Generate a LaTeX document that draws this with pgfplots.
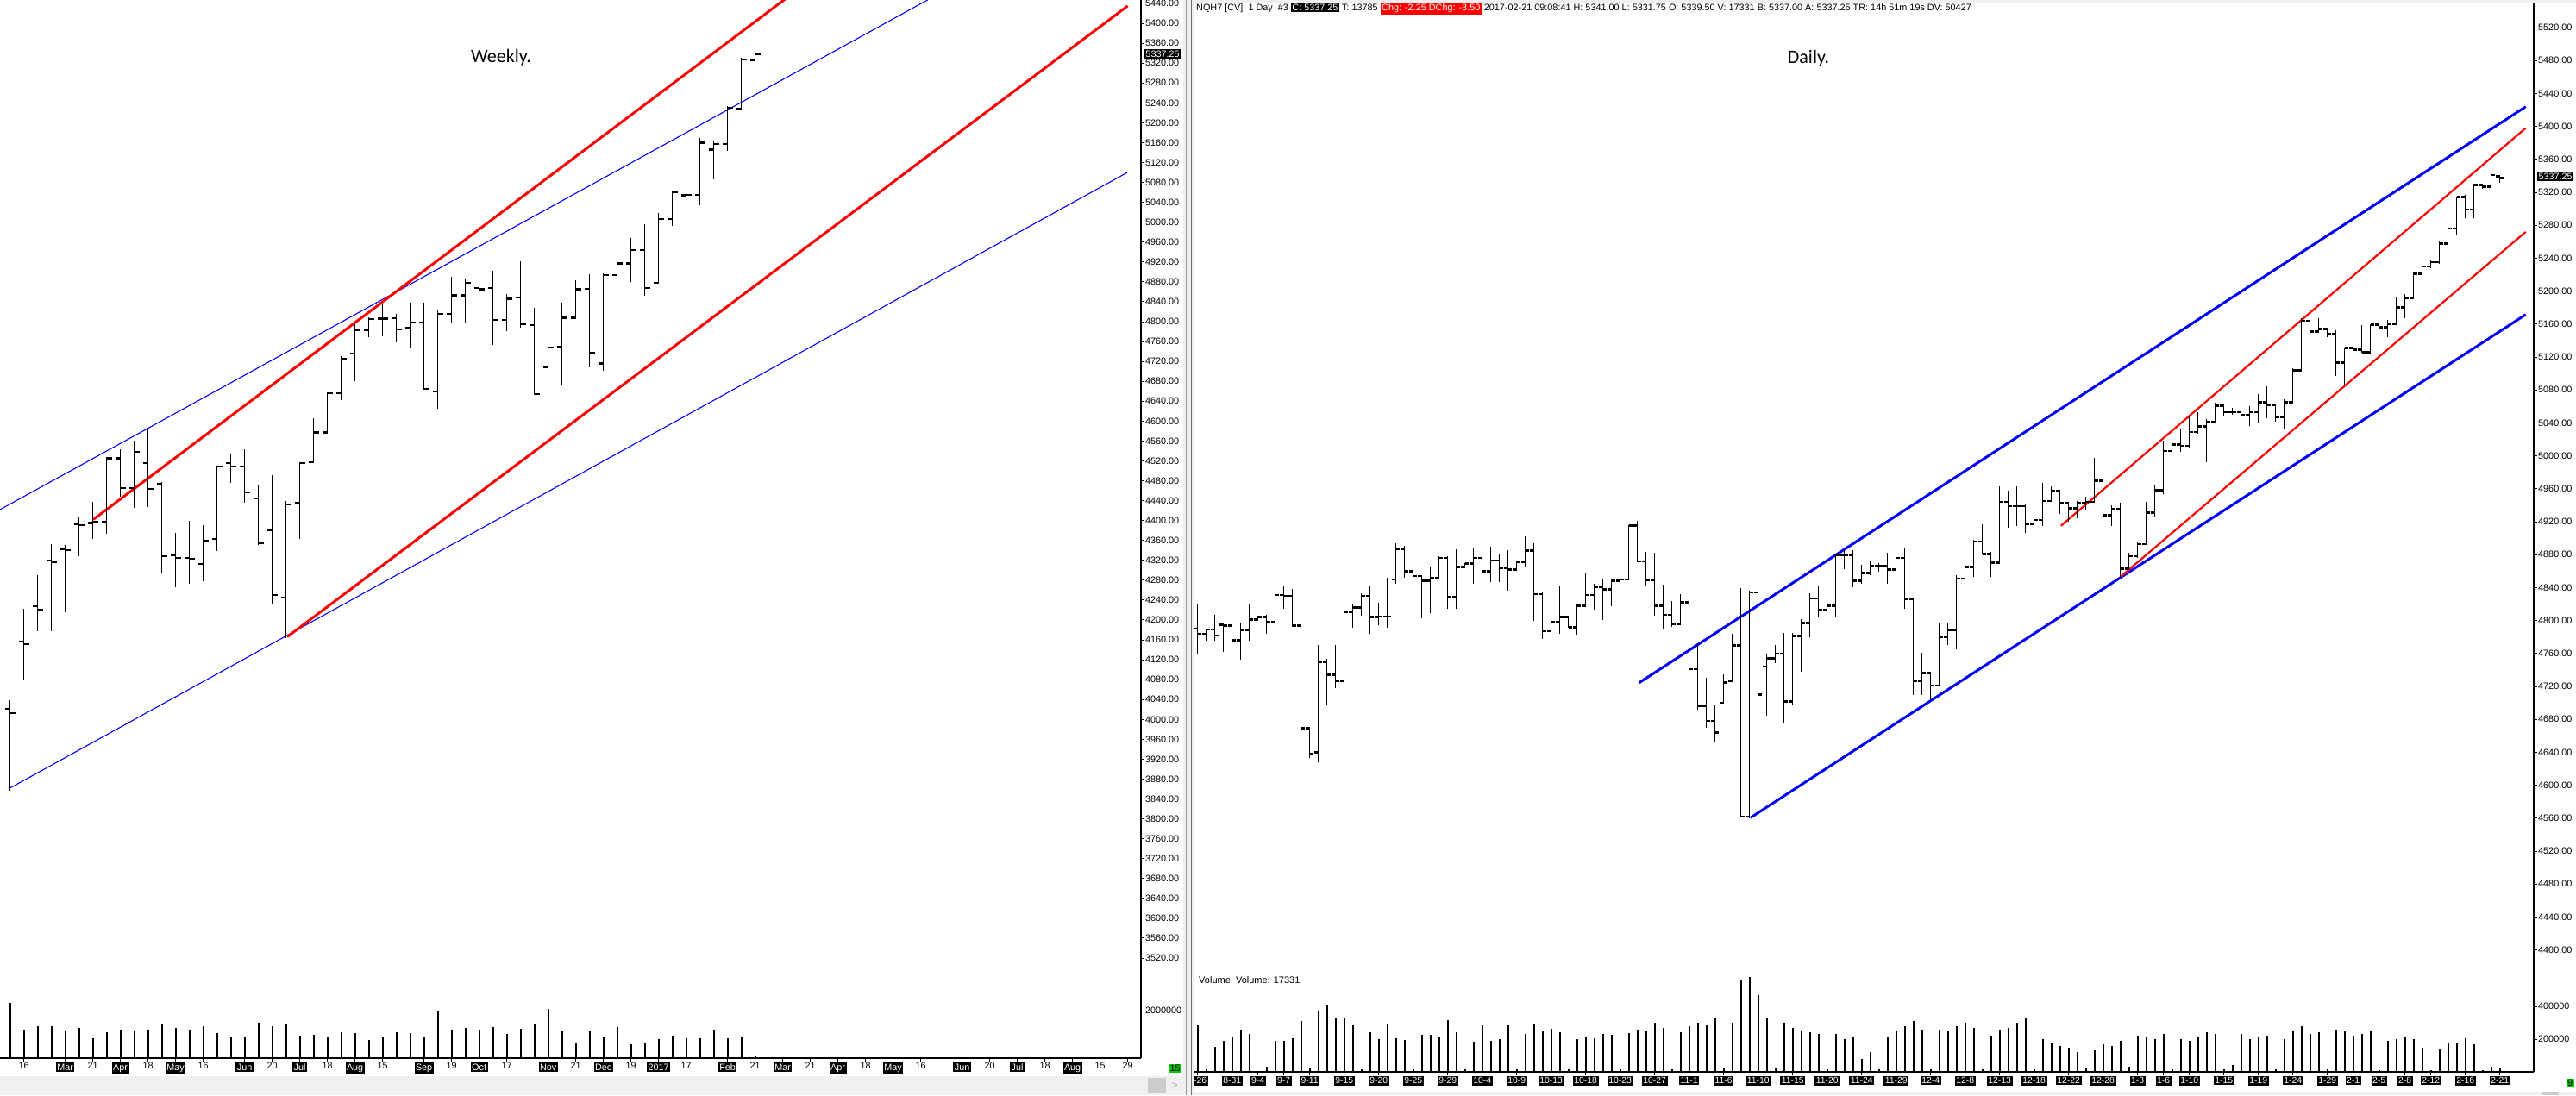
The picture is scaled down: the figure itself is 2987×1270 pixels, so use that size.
\documentclass[border=0pt]{standalone}
\usepackage{pgfplots}
\pgfplotsset{compat=1.18}
\usepackage{pgfplotstable}
\usepackage{fontspec}
\setmainfont{Liberation Sans}
\newfontfamily\titlefont{Carlito}
\setlength{\fboxsep}{1.5pt}
\newcommand{\bk}[1]{\colorbox{black}{\textcolor{white}{#1}}}
\newcommand{\rb}[1]{\colorbox{red}{\textcolor{white}{#1}}}
\newcommand{\axf}{\fontsize{10.8}{12}\selectfont}
\newcommand{\dtf}{\fontsize{10.4}{11}\selectfont}

\pgfdeclareplotmark{ltick}{%
  \pgfpathmoveto{\pgfqpoint{-\pgfplotmarksize}{0pt}}%
  \pgfpathlineto{\pgfqpoint{0pt}{0pt}}%
  \pgfusepathqstroke}
\pgfdeclareplotmark{rtick}{%
  \pgfpathmoveto{\pgfqpoint{0pt}{0pt}}%
  \pgfpathlineto{\pgfqpoint{\pgfplotmarksize}{0pt}}%
  \pgfusepathqstroke}

\pgfplotsset{
  chart/.style={scale only axis, clip=true, enlargelimits=false,
    axis line style={-, line width=1.2pt, black},
    tick style={line width=1pt, black}, major tick length=4pt, tick align=outside,
    ticklabel style={font=\axf}, scaled y ticks=false, scaled x ticks=false,
    /pgf/number format/assume math mode=true},
}

% weekly OHLC
\pgfplotstableread{
x o h l c
-1 4000 4040 3990 4021
0 4021 4038 3857 4013
1 4156 4223 4081 4151
2 4228 4290 4178 4221
3 4320 4353 4178 4316
4 4343 4350 4216 4340
5 4393 4408 4328 4391
6 4395 4438 4363 4398
7 4398 4528 4373 4525
8 4525 4543 4448 4465
9 4465 4561 4425 4538
10 4515 4583 4428 4463
11 4473 4478 4293 4328
12 4331 4375 4266 4325
13 4325 4400 4273 4323
14 4313 4391 4278 4360
15 4363 4510 4338 4508
16 4515 4535 4476 4508
17 4508 4543 4435 4456
18 4445 4473 4351 4355
19 4380 4491 4231 4250
20 4245 4440 4163 4433
21 4435 4518 4363 4515
22 4517 4605 4515 4577
23 4577 4658 4575 4656
24 4656 4731 4643 4726
25 4736 4795 4680 4783
26 4783 4808 4768 4805
27 4806 4835 4771 4806
28 4807 4816 4758 4785
29 4787 4838 4748 4798
30 4798 4838 4663 4665
31 4660 4823 4625 4815
32 4815 4891 4798 4853
33 4853 4885 4798 4878
34 4867 4873 4835 4865
35 4867 4903 4753 4803
36 4803 4855 4781 4846
37 4848 4921 4788 4795
38 4793 4828 4653 4655
39 4708 4881 4558 4748
40 4750 4838 4673 4808
41 4808 4883 4806 4865
42 4866 4896 4708 4738
43 4716 4898 4701 4893
44 4893 4963 4851 4917
45 4917 4968 4880 4944
46 4944 4996 4852 4868
47 4878 5018 4878 5006
48 5006 5062 4993 5060
49 5054 5084 5027 5055
50 5055 5169 5034 5160
51 5146 5163 5086 5157
52 5157 5233 5143 5230
53 5228 5331 5226 5327
54 5325 5346 5322 5337
}\weekly

\pgfplotstableread{
x v
0 2320000
1 1150000
2 1340000
3 1340000
4 1120000
5 1270000
6 830000
7 1090000
8 1200000
9 1120000
10 1200000
11 1450000
12 1270000
13 1200000
14 1340000
15 1050000
16 870000
17 870000
18 1490000
19 1340000
20 1420000
21 940000
22 980000
23 900000
24 1090000
25 1050000
26 760000
27 870000
28 1090000
29 1050000
30 900000
31 1960000
32 1160000
33 1270000
34 1160000
35 1310000
36 1010000
37 1230000
38 1420000
39 2070000
40 1120000
41 610000
42 1120000
43 900000
44 1310000
45 570000
46 610000
47 790000
48 940000
49 830000
50 830000
51 1160000
52 830000
53 900000
54 90000
}\wvol

% daily OHLC
\pgfplotstableread{
x o h l c
0 4790 4819 4759 4784
1 4784 4790 4776 4789
2 4789 4807 4776 4782
3 4795 4797 4762 4794
4 4794 4797 4754 4776
5 4776 4797 4752 4788
6 4788 4819 4775 4801
7 4801 4806 4800 4804
8 4804 4807 4784 4798
9 4798 4833 4797 4831
10 4831 4841 4814 4830
11 4830 4838 4792 4794
12 4794 4796 4667 4669
13 4669 4669 4633 4638
14 4640 4770 4628 4750
15 4750 4754 4698 4734
16 4734 4770 4718 4727
17 4727 4824 4726 4810
18 4810 4821 4791 4816
19 4816 4833 4806 4830
20 4830 4843 4784 4804
21 4804 4822 4794 4805
22 4805 4852 4791 4805
23 4850 4894 4845 4887
24 4887 4891 4852 4860
25 4860 4860 4850 4854
26 4854 4854 4803 4848
27 4848 4866 4809 4852
28 4852 4878 4852 4876
29 4876 4878 4814 4829
30 4829 4887 4814 4865
31 4865 4870 4865 4869
32 4869 4889 4845 4876
33 4876 4889 4838 4860
34 4860 4890 4847 4873
35 4873 4881 4847 4864
36 4864 4885 4836 4862
37 4862 4873 4862 4871
38 4871 4902 4864 4885
39 4885 4894 4800 4832
40 4832 4834 4778 4787
41 4787 4813 4757 4798
42 4798 4842 4784 4804
43 4804 4804 4791 4792
44 4792 4820 4783 4818
45 4818 4858 4817 4831
46 4831 4845 4813 4841
47 4841 4850 4801 4838
48 4838 4850 4817 4848
49 4848 4852 4846 4850
50 4850 4916 4850 4915
51 4915 4921 4871 4872
52 4872 4883 4842 4849
53 4849 4882 4806 4818
54 4818 4844 4789 4807
55 4807 4824 4792 4796
56 4796 4832 4796 4822
57 4822 4822 4721 4741
58 4741 4771 4692 4696
59 4696 4731 4670 4678
60 4678 4697 4653 4664
61 4700 4735 4700 4725
62 4727 4784 4727 4770
63 4770 4839 4561 4562
64 4562 4836 4560 4834
65 4834 4881 4681 4710
66 4744 4759 4684 4754
67 4754 4770 4748 4760
68 4760 4785 4676 4702
69 4702 4785 4697 4781
70 4781 4802 4738 4797
71 4797 4833 4780 4827
72 4827 4843 4805 4813
73 4813 4820 4805 4818
74 4818 4881 4805 4880
75 4880 4885 4862 4879
76 4879 4885 4840 4848
77 4848 4868 4845 4858
78 4858 4873 4855 4866
79 4866 4870 4859 4866
80 4866 4882 4845 4862
81 4862 4898 4850 4876
82 4876 4889 4814 4826
83 4826 4826 4710 4727
84 4727 4761 4710 4736
85 4736 4736 4704 4721
86 4721 4798 4720 4780
87 4780 4798 4770 4788
88 4788 4855 4765 4851
89 4851 4870 4839 4865
90 4865 4898 4853 4896
91 4896 4917 4880 4881
92 4881 4883 4853 4870
93 4870 4963 4869 4944
94 4944 4958 4913 4939
95 4939 4963 4915 4939
96 4939 4941 4906 4917
97 4917 4924 4915 4922
98 4922 4967 4915 4945
99 4945 4963 4945 4957
100 4957 4957 4929 4943
101 4943 4944 4920 4936
102 4936 4945 4924 4943
103 4943 4950 4935 4944
104 4944 4997 4943 4970
105 4970 4983 4906 4928
106 4928 4940 4915 4935
107 4935 4943 4852 4863
108 4863 4882 4862 4878
109 4878 4896 4876 4893
110 4893 4944 4893 4931
111 4931 4964 4925 4958
112 4958 5018 4954 5006
113 5006 5024 4998 5014
114 5014 5032 5005 5012
115 5012 5048 5010 5029
116 5029 5053 5027 5036
117 5036 5045 4992 5041
118 5041 5064 5041 5061
119 5061 5063 5048 5053
120 5053 5058 5050 5053
121 5053 5055 5027 5050
122 5050 5060 5036 5053
123 5053 5075 5039 5065
124 5065 5084 5046 5062
125 5062 5062 5041 5047
126 5047 5069 5032 5065
127 5065 5106 5062 5104
128 5104 5167 5102 5164
129 5164 5170 5142 5151
130 5151 5167 5149 5154
131 5154 5154 5144 5148
132 5148 5153 5097 5113
133 5113 5132 5086 5131
134 5131 5160 5123 5129
135 5129 5159 5125 5126
136 5126 5160 5123 5159
137 5159 5160 5153 5156
138 5156 5165 5144 5160
139 5160 5193 5160 5180
140 5180 5196 5167 5192
141 5192 5223 5192 5221
142 5221 5233 5214 5230
143 5230 5237 5228 5235
144 5235 5261 5233 5258
145 5258 5280 5242 5276
146 5276 5315 5268 5314
147 5314 5317 5289 5299
148 5299 5331 5289 5329
149 5329 5330 5324 5327
150 5327 5345 5326 5341
151 5339.5 5341 5331.75 5337.25
}\daily

\pgfplotstableread{
x v
0 284000
1 14000
2 153000
3 189000
4 210000
5 253000
6 232000
7 7000
8 32000
9 189000
10 189000
11 205000
12 310000
13 26000
14 368000
15 405000
16 326000
17 326000
18 284000
19 16000
20 242000
21 200000
22 295000
23 205000
24 195000
25 16000
26 226000
27 226000
28 216000
29 316000
30 242000
31 16000
32 184000
33 284000
34 189000
35 200000
36 284000
37 15000
38 230000
39 290000
40 250000
41 265000
42 240000
43 14000
44 200000
45 215000
46 205000
47 230000
48 225000
49 15000
50 235000
51 260000
52 245000
53 300000
54 270000
55 16000
56 240000
57 280000
58 300000
59 285000
60 330000
61 25000
62 300000
63 560000
64 580000
65 470000
66 330000
67 22000
68 300000
69 270000
70 250000
71 240000
72 230000
73 16000
74 230000
75 200000
76 210000
77 80000
78 120000
79 14000
80 210000
81 250000
82 280000
83 310000
84 260000
85 18000
86 260000
87 250000
88 280000
89 300000
90 270000
91 16000
92 220000
93 260000
94 270000
95 300000
96 330000
97 14000
98 200000
99 180000
100 160000
101 150000
102 120000
103 20000
104 130000
105 170000
106 160000
107 190000
108 30000
109 220000
110 210000
111 200000
112 230000
113 15000
114 200000
115 190000
116 210000
117 240000
118 230000
119 14000
120 40000
121 230000
122 200000
123 210000
124 220000
125 15000
126 200000
127 250000
128 280000
129 230000
130 240000
131 14000
132 260000
133 250000
134 220000
135 230000
136 250000
137 13000
138 190000
139 200000
140 210000
141 200000
142 146000
143 11000
144 142000
145 173000
146 173000
147 205000
148 168000
149 11000
150 32000
151 23000
}\dvol

\begin{document}
\begin{tikzpicture}[x=1pt,y=1pt]
\useasboundingbox (0,0) rectangle (2987,1270);
\fill[white] (0,0) rectangle (2987,1270);

% ---------------- LEFT: weekly price ----------------
\begin{axis}[chart, at={(0pt,145pt)}, anchor=south west, width=1323pt, height=1125pt,
  xmin=-0.725, xmax=81.96, ymin=3495.8, ymax=5446.9,
  axis x line=none, axis y line*=right,
  ytick={3520,3560,...,5440},
  yticklabel style={/pgf/number format/.cd, fixed, fixed zerofill, precision=2, 1000 sep={}, /tikz/.cd, inner sep=1pt},
]
\addplot[blue, line width=1.1pt] coordinates {(-0.725,4422) (66.5,5447)};
\addplot[blue, line width=1.1pt] coordinates {(0,3862) (80.97,5100)};
\addplot[red, line width=3pt] coordinates {(6.03,4402) (57,5466)};
\addplot[red, line width=3pt] coordinates {(20.09,4166) (81.0,5435)};
\addplot[draw=none, mark=none, forget plot,
  error bars/.cd, y dir=both, y explicit, error mark=none,
  error bar style={draw=black, solid, line width=1pt}]
  table[x=x, y=c, y error plus expr=\thisrow{h}-\thisrow{c}, y error minus expr=\thisrow{c}-\thisrow{l}]{\weekly};
\addplot[only marks, mark=ltick, mark size=6pt, mark options={black, line width=2.2pt}] table[x=x,y=o]{\weekly};
\addplot[only marks, mark=rtick, mark size=6pt, mark options={black, line width=2.2pt}] table[x=x,y=c]{\weekly};
\end{axis}

% ---------------- LEFT: weekly volume ----------------
\begin{axis}[chart, at={(0pt,43pt)}, anchor=south west, width=1323pt, height=102pt,
  xmin=-0.725, xmax=81.96, ymin=0, ymax=3709091,
  axis x line*=bottom, axis y line*=right,
  ytick={2000000},
  yticklabel style={/pgf/number format/.cd, fixed, precision=0, 1000 sep={}, /tikz/.cd, inner sep=1pt},
  xtick={-1.0,1,4,6,8,10,12,14,17,19,21,23,25,27,30,32,34,36,39,41,43,45,47,49,52,54,56,58,60,62,64,66,69,71,73,75,77,79,81},
  xticklabels={\bk{Feb},16,\bk{Mar},21,\bk{Apr},18,\bk{May},16,\bk{Jun},20,\bk{Jul},18,\bk{Aug},15,\bk{Sep},19,\bk{Oct},17,\bk{Nov},21,\bk{Dec},19,\bk{2017},17,\bk{Feb},21,\bk{Mar},21,\bk{Apr},18,\bk{May},16,\bk{Jun},20,\bk{Jul},18,\bk{Aug},15,29},
  xticklabel style={inner sep=0pt, yshift=-1pt},
]
\addplot[ycomb, black, line width=2pt, mark=none] table[x=x,y=v]{\wvol};
\end{axis}

% ---------------- RIGHT: daily price ----------------
\begin{axis}[chart, at={(1383pt,145pt)}, anchor=south west, width=1555pt, height=1122pt,
  xmin=-0.57, xmax=154.93, ymin=4375.5, ymax=5550.4,
  axis x line=none, axis y line*=right,
  ytick={4400,4440,...,5520},
  yticklabel style={/pgf/number format/.cd, fixed, fixed zerofill, precision=2, 1000 sep={}, /tikz/.cd, inner sep=1pt},
]
\addplot[blue, line width=3pt] coordinates {(51.2,4724.5) (154.0,5424)};
\addplot[blue, line width=3pt] coordinates {(64.1,4560.5) (154.0,5171.6)};
\addplot[red, line width=2.2pt] coordinates {(100.1,4915) (154.0,5398)};
\addplot[red, line width=2.2pt] coordinates {(107.0,4853) (154.0,5272)};
\addplot[draw=none, mark=none, forget plot,
  error bars/.cd, y dir=both, y explicit, error mark=none,
  error bar style={draw=black, solid, line width=1pt}]
  table[x=x, y=c, y error plus expr=\thisrow{h}-\thisrow{c}, y error minus expr=\thisrow{c}-\thisrow{l}]{\daily};
\addplot[only marks, mark=ltick, mark size=4.5pt, mark options={black, line width=2.6pt}] table[x=x,y=o]{\daily};
\addplot[only marks, mark=rtick, mark size=4.5pt, mark options={black, line width=2.6pt}] table[x=x,y=c]{\daily};
\end{axis}

% ---------------- RIGHT: daily volume ----------------
\begin{axis}[chart, at={(1383pt,27pt)}, anchor=south west, width=1555pt, height=118pt,
  xmin=-0.57, xmax=154.93, ymin=0, ymax=621053,
  axis x line*=bottom, axis y line*=right,
  ytick={200000,400000},
  yticklabel style={/pgf/number format/.cd, fixed, precision=0, 1000 sep={}, /tikz/.cd, inner sep=1pt},
  xtick={0,4,7,10,13,17,21,25,29,33,37,41,45,49,53,57,61,65,69,73,77,81,85,89,93,97,101,105,109,112,115,119,123,127,131,134,137,140,143,147,151},
  xticklabels={\bk{8-26},\bk{8-31},\bk{9-4},\bk{9-7},\bk{9-11},\bk{9-15},\bk{9-20},\bk{9-25},\bk{9-29},\bk{10-4},\bk{10-9},\bk{10-13},\bk{10-18},\bk{10-23},\bk{10-27},\bk{11-1},\bk{11-6},\bk{11-10},\bk{11-15},\bk{11-20},\bk{11-24},\bk{11-29},\bk{12-4},\bk{12-8},\bk{12-13},\bk{12-18},\bk{12-22},\bk{12-28},\bk{1-3},\bk{1-6},\bk{1-10},\bk{1-15},\bk{1-19},\bk{1-24},\bk{1-29},\bk{2-1},\bk{2-5},\bk{2-8},\bk{2-12},\bk{2-16},\bk{2-21}},
  xticklabel style={inner sep=0pt, yshift=-1pt, font=\dtf},
]
\addplot[ycomb, black, line width=2pt, mark=none] table[x=x,y=v]{\dvol};
\end{axis}

% ---------------- decorations ----------------
\node[anchor=center, font=\titlefont\fontsize{22}{26}\selectfont] at (581pt,1203pt) {Weekly.};
\node[anchor=center, font=\titlefont\fontsize{22}{26}\selectfont] at (2097pt,1202pt) {Daily.};
\node[anchor=west, font=\fontsize{10.85}{12}\selectfont, inner sep=0pt] at (1387pt,1260pt)
  {NQH7 [CV]\ \ 1 Day\ \ \#3 \bk{C: 5337.25} T: 13785 \rb{Chg: -2.25}\rb{DChg: -3.50} 2017-02-21 09:08:41 H: 5341.00 L: 5331.75 O: 5339.50 V: 17331 B: 5337.00 A: 5337.25 TR: 14h 51m 19s DV: 50427};
\node[anchor=west, font=\fontsize{11}{12}\selectfont, inner sep=0pt] at (1390pt,133pt) {Volume\ \ Volume: 17331};
\node[fill=black, text=white, font=\axf, inner sep=1.5pt] at (1348pt,1207.5pt) {5337.25};
\node[fill=black, text=white, font=\axf, inner sep=1.5pt] at (2963pt,1065pt) {5337.25};

% scrollbars / divider / status boxes
\fill[black!6] (0,0) rectangle (1372,22);
\fill[black!20] (1331,3) rectangle (1352,20);
\node[font=\axf, text=black!60] at (1362,11) {$>$};
\node[fill={rgb,255:red,0;green,200;blue,0}, font=\axf, inner sep=1.5pt] at (1362.5,31) {15};
\fill[black!6] (1372,0) rectangle (1384,1270);
\draw[black!40, line width=1.5pt] (1375.5,0) -- (1375.5,1270);
\draw[black!55, line width=1.5pt] (1381.5,0) -- (1381.5,1270);
\fill[black!6] (1384,0) rectangle (2987,4);
\fill[black!20] (2947,0) rectangle (2967,4);
\fill[black!6] (1384,1267) rectangle (2987,1270);
\node[fill={rgb,255:red,0;green,200;blue,0}, font=\axf, inner sep=1.5pt] at (2980,14) {9};
\end{tikzpicture}
\end{document}
